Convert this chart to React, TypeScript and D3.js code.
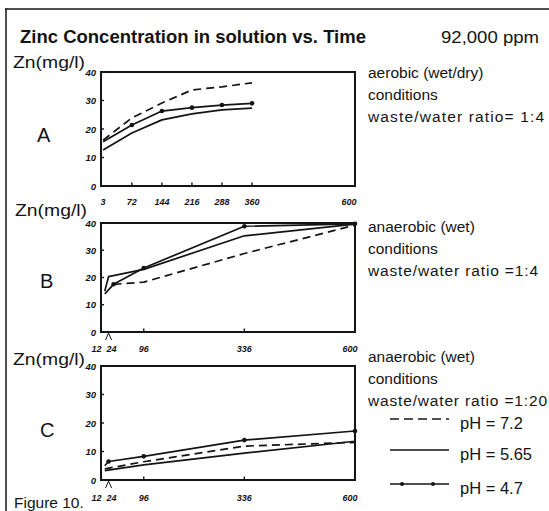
import React from "react";
import * as d3 from "d3";

// ---------- data ----------
const yTicks = [0, 10, 20, 30, 40];

const timesA = [3, 72, 144, 216, 288, 360];
const aPh72 = [16.1, 23.9, 29.1, 33.7, 34.8, 36.2];
const aPh565 = [12.6, 18.6, 23.2, 25.3, 26.7, 27.3];
const aPh47 = [15.5, 21.4, 26.3, 27.5, 28.4, 29.0];
const xLabelsA = [3, 72, 144, 216, 288, 360, 600];

const timesBPh72 = [24, 96, 336, 600];
const bPh72 = [17.5, 18.3, 28.8, 39.2];
const timesBPh565 = [3, 12, 96, 336, 600];
const bPh565 = [15, 20.3, 23, 35.3, 39.6];
const timesBPh47 = [3, 24, 96, 336, 600];
const bPh47 = [14, 17.5, 23.5, 38.8, 39.7];
const xLabelsBC = [12, 24, 96, 336, 600];

const timesCPh72 = [3, 96, 336, 600];
const cPh72 = [3.9, 6.4, 11.9, 13.2];
const timesCPh565 = [3, 96, 336, 600];
const cPh565 = [3.3, 5.3, 9.4, 13.6];
const timesCPh47 = [3, 12, 96, 336, 600];
const cPh47 = [5, 6.5, 8.3, 14, 17.2];

const legendLabels = ["pH = 7.2", "pH = 5.65", "pH = 4.7"];

const zip = (t: number[], v: number[]) => t.map((x, i) => ({ t: x, v: v[i] }));

// ---------- layout ----------
const W = 549;
const H = 511;
const LEFT = 101;
const RIGHT = 355;
const INK = "#141414";
const SANS = "'Liberation Sans', Arial, Helvetica, sans-serif";

type Series = { pts: { t: number; v: number }[]; kind: "dash" | "solid" | "dot" };

function Panel(props: {
  top: number;
  bottom: number;
  domain: [number, number];
  series: Series[];
  xLabels: number[];
  tickVals: number[];
  caret?: number;
  labelNudge?: (v: number) => number;
  labelY: number;
}) {
  const { top, bottom, domain, series, xLabels, tickVals, caret, labelNudge, labelY } = props;
  const x = d3.scaleLinear().domain(domain).range([LEFT, RIGHT]);
  const y = d3.scaleLinear().domain([0, 40]).range([bottom, top]);
  const line = d3
    .line<{ t: number; v: number }>()
    .x((d) => x(d.t))
    .y((d) => y(d.v));
  return (
    <g>
      {series.map((s, i) => (
        <g key={i}>
          <path
            d={line(s.pts) || ""}
            fill="none"
            stroke={INK}
            strokeWidth={1.7}
            strokeDasharray={s.kind === "dash" ? "8,5" : undefined}
            strokeLinejoin="round"
          />
          {s.kind === "dot" &&
            s.pts
              .filter((p) => p.t >= 10)
              .map((p, j) => <circle key={j} cx={x(p.t)} cy={y(p.v)} r={2.3} fill={INK} />)}
        </g>
      ))}
      <rect x={LEFT} y={top} width={RIGHT - LEFT} height={bottom - top} fill="none" stroke={INK} strokeWidth={2} />
      {yTicks.map((v) => (
        <g key={v}>
          {v > 0 && v < 40 && <line x1={LEFT} x2={LEFT + 3} y1={y(v)} y2={y(v)} stroke={INK} strokeWidth={1.4} />}
          <text
            x={LEFT - 5}
            y={y(v) + 3.5}
            textAnchor="end"
            fontFamily={SANS}
            fontStyle="italic"
            fontWeight="bold"
            fontSize={9.5}
            fill={INK}
          >
            {v}
          </text>
        </g>
      ))}
      {tickVals.map((v) => (
        <line key={v} x1={x(v)} x2={x(v)} y1={bottom} y2={bottom - 3.5} stroke={INK} strokeWidth={1.4} />
      ))}
      {xLabels.map((v) => (
        <text
          key={v}
          x={x(v) + (labelNudge ? labelNudge(v) : 0)}
          y={labelY}
          textAnchor="middle"
          fontFamily={SANS}
          fontStyle="italic"
          fontWeight="bold"
          fontSize={9}
          fill={INK}
        >
          {v}
        </text>
      ))}
      {caret !== undefined && (
        <path
          d={`M${x(caret) - 3},${bottom + 8} L${x(caret)},${bottom + 1} L${x(caret) + 3},${bottom + 8}`}
          fill="none"
          stroke={INK}
          strokeWidth={1}
        />
      )}
    </g>
  );
}

function SideText(props: { x: number; y: number; lines: string[]; lastLen: number }) {
  return (
    <g>
      {props.lines.map((l, i) => (
        <text
          key={i}
          x={props.x}
          y={props.y + i * 22}
          fontFamily={SANS}
          fontSize={15.5}
          fill={INK}
          textLength={i === props.lines.length - 1 ? props.lastLen : undefined}
          lengthAdjust="spacing"
        >
          {l}
        </text>
      ))}
    </g>
  );
}

export default function App() {
  const nudgeA = (v: number) => (v === 600 ? -3 : 0);
  const nudgeBC = (v: number) => (v === 12 ? -12 : v === 24 ? -2 : v === 600 ? -5 : 0);
  const legendY = [419, 450, 484];
  const legendKinds: Series["kind"][] = ["dash", "solid", "dot"];
  return (
    <svg width={W} height={H} style={{ position: "absolute", left: 0, top: 0, background: "#fff" }}>
      <rect x={0} y={0} width={W} height={H} fill="#fff" />
      {/* frame */}
      <line x1={5} x2={W} y1={9} y2={9} stroke={INK} strokeWidth={1.5} />
      <line x1={6} x2={6} y1={8.5} y2={H} stroke={INK} strokeWidth={1.5} />

      <text x={20} y={43} fontFamily={SANS} fontWeight="bold" fontSize={17.5} fill={INK} textLength={346} lengthAdjust="spacingAndGlyphs">
        Zinc Concentration in solution vs. Time
      </text>
      <text x={441} y={43} fontFamily={SANS} fontSize={17} fill={INK} textLength={98} lengthAdjust="spacingAndGlyphs">
        92,000 ppm
      </text>

      {/* Panel A */}
      <text x={13} y={68} fontFamily={SANS} fontSize={17} fill={INK} textLength={72} lengthAdjust="spacingAndGlyphs">Zn(mg/l)</text>
      <text x={37} y={142} fontFamily={SANS} fontSize={20} fill={INK}>A</text>
      <Panel
        top={72}
        bottom={186}
        domain={[-2, 607]}
        series={[
          { pts: zip(timesA, aPh72), kind: "dash" },
          { pts: zip(timesA, aPh565), kind: "solid" },
          { pts: zip(timesA, aPh47), kind: "dot" },
        ]}
        xLabels={xLabelsA}
        tickVals={[72, 144, 216, 288, 360]}
        labelNudge={nudgeA}
        labelY={205}
      />
      <SideText x={368} y={78} lines={["aerobic (wet/dry)", "conditions", "waste/water ratio= 1:4"]} lastLen={176} />

      {/* Panel B */}
      <text x={15} y={216} fontFamily={SANS} fontSize={17} fill={INK} textLength={72} lengthAdjust="spacingAndGlyphs">Zn(mg/l)</text>
      <text x={40} y={288} fontFamily={SANS} fontSize={20} fill={INK}>B</text>
      <Panel
        top={223}
        bottom={332}
        domain={[-6, 600]}
        series={[
          { pts: zip(timesBPh72, bPh72), kind: "dash" },
          { pts: zip(timesBPh565, bPh565), kind: "solid" },
          { pts: zip(timesBPh47, bPh47), kind: "dot" },
        ]}
        xLabels={xLabelsBC}
        tickVals={[96, 336]}
        caret={12}
        labelNudge={nudgeBC}
        labelY={352}
      />
      <SideText x={368} y={232} lines={["anaerobic (wet)", "conditions", "waste/water ratio =1:4"]} lastLen={170} />

      {/* Panel C */}
      <text x={13} y={365} fontFamily={SANS} fontSize={17} fill={INK} textLength={72} lengthAdjust="spacingAndGlyphs">Zn(mg/l)</text>
      <text x={40} y={437} fontFamily={SANS} fontSize={20} fill={INK}>C</text>
      <Panel
        top={366}
        bottom={480}
        domain={[-6, 600]}
        series={[
          { pts: zip(timesCPh72, cPh72), kind: "dash" },
          { pts: zip(timesCPh565, cPh565), kind: "solid" },
          { pts: zip(timesCPh47, cPh47), kind: "dot" },
        ]}
        xLabels={xLabelsBC}
        tickVals={[96, 336]}
        caret={12}
        labelNudge={nudgeBC}
        labelY={501}
      />
      <SideText x={368} y={362} lines={["anaerobic (wet)", "conditions", "waste/water ratio =1:20"]} lastLen={179} />

      {/* legend */}
      {legendLabels.map((lab, i) => (
        <g key={lab}>
          <line
            x1={390}
            x2={449}
            y1={legendY[i]}
            y2={legendY[i]}
            stroke={INK}
            strokeWidth={1.4}
            strokeDasharray={legendKinds[i] === "dash" ? "9,5" : undefined}
          />
          {legendKinds[i] === "dot" &&
            [402, 433].map((cx) => <circle key={cx} cx={cx} cy={legendY[i]} r={2} fill={INK} />)}
          <text x={460} y={legendY[i] + 10} fontFamily={SANS} fontSize={16.5} fill={INK}>
            {lab}
          </text>
        </g>
      ))}

      <text x={14} y={508} fontFamily={SANS} fontSize={15.5} fill={INK}>Figure 10.</text>
    </svg>
  );
}
